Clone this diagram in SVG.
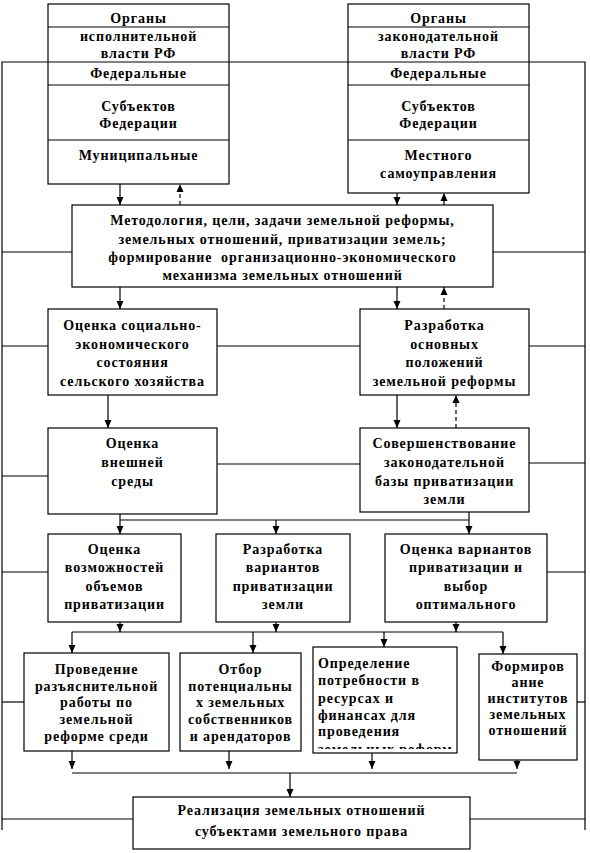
<svg xmlns="http://www.w3.org/2000/svg" width="590" height="853" viewBox="0 0 590 853">
<defs>
<style>
.b{fill:#fff;stroke:#000;stroke-width:1.2}
.l{fill:none;stroke:#000;stroke-width:1.2}
.d{fill:none;stroke:#000;stroke-width:1.2;stroke-dasharray:4 3}
text{font-family:"Liberation Serif","Times New Roman",serif;font-weight:bold;font-size:14px;letter-spacing:0.9px;fill:#000;text-anchor:middle}
text.s{text-anchor:start}
</style>
<marker id="a" viewBox="0 0 8 8" refX="8" refY="4" markerWidth="8" markerHeight="8" markerUnits="userSpaceOnUse" orient="auto"><path d="M0,0.5 L8,4 L0,7.5 Z" fill="#000"/></marker>
<clipPath id="c3"><rect x="313" y="647" width="144" height="102"/></clipPath>
</defs>
<rect width="590" height="853" fill="#fff"/>
<g id="connectors">
<polyline class="l" points="2,830 2,62 585,62 585,830"/>
<line class="l" x1="2" y1="252" x2="72" y2="252"/>
<line class="l" x1="493" y1="252" x2="585" y2="252"/>
<line class="l" x1="2" y1="346" x2="48" y2="346"/>
<line class="l" x1="217" y1="346" x2="360" y2="346"/>
<line class="l" x1="529" y1="346" x2="585" y2="346"/>
<line class="l" x1="2" y1="476" x2="48" y2="476"/>
<line class="l" x1="217" y1="464" x2="360" y2="464"/>
<line class="l" x1="529" y1="463" x2="585" y2="463"/>
<line class="l" x1="2" y1="572" x2="48" y2="572"/>
<line class="l" x1="547" y1="572" x2="585" y2="572"/>
<line class="l" x1="2" y1="702" x2="24" y2="702"/>
<line class="l" x1="577" y1="702" x2="585" y2="702"/>
<line class="l" x1="2" y1="819" x2="133" y2="819"/>
<line class="l" x1="470" y1="819" x2="585" y2="819"/>
<line class="l" x1="120" y1="184" x2="120" y2="205" marker-end="url(#a)"/>
<line class="d" x1="180" y1="205" x2="180" y2="184" marker-end="url(#a)"/>
<line class="l" x1="397" y1="193" x2="397" y2="205" marker-end="url(#a)"/>
<line class="d" x1="444" y1="205" x2="444" y2="193" marker-end="url(#a)"/>
<line class="l" x1="120" y1="287" x2="120" y2="309" marker-end="url(#a)"/>
<line class="l" x1="397" y1="287" x2="397" y2="309" marker-end="url(#a)"/>
<line class="d" x1="444" y1="309" x2="444" y2="287" marker-end="url(#a)"/>
<line class="l" x1="108" y1="395" x2="108" y2="428" marker-end="url(#a)"/>
<line class="l" x1="397" y1="395" x2="397" y2="428" marker-end="url(#a)"/>
<line class="d" x1="456" y1="428" x2="456" y2="395" marker-end="url(#a)"/>
<line class="l" x1="120" y1="514" x2="120" y2="534" marker-end="url(#a)"/>
<line class="l" x1="469" y1="512" x2="469" y2="534" marker-end="url(#a)"/>
<line class="l" x1="120" y1="520" x2="469" y2="520"/>
<line class="l" x1="276" y1="520" x2="276" y2="534" marker-end="url(#a)"/>
<line class="l" x1="120" y1="622" x2="120" y2="632" marker-end="url(#a)"/>
<line class="l" x1="276" y1="622" x2="276" y2="632" marker-end="url(#a)"/>
<line class="l" x1="456" y1="622" x2="456" y2="632" marker-end="url(#a)"/>
<line class="l" x1="72" y1="632" x2="503" y2="632"/>
<line class="l" x1="72" y1="632" x2="72" y2="653" marker-end="url(#a)"/>
<line class="l" x1="253" y1="632" x2="253" y2="653" marker-end="url(#a)"/>
<line class="l" x1="384" y1="632" x2="384" y2="647" marker-end="url(#a)"/>
<line class="l" x1="503" y1="632" x2="503" y2="654" marker-end="url(#a)"/>
<line class="l" x1="72" y1="751" x2="72" y2="769" marker-end="url(#a)"/>
<line class="l" x1="229" y1="751" x2="229" y2="769" marker-end="url(#a)"/>
<line class="l" x1="372" y1="753" x2="372" y2="769" marker-end="url(#a)"/>
<line class="l" x1="517" y1="760" x2="517" y2="769" marker-end="url(#a)"/>
<line class="l" x1="72" y1="773" x2="517" y2="773"/>
<line class="l" x1="290" y1="773" x2="290" y2="797" marker-end="url(#a)"/>
</g>
<g id="exec">
<rect class="b" x="48" y="4" width="181" height="180"/>
<line class="l" x1="48" y1="27" x2="229" y2="27"/>
<line class="l" x1="48" y1="62" x2="229" y2="62"/>
<line class="l" x1="48" y1="85" x2="229" y2="85"/>
<line class="l" x1="48" y1="140" x2="229" y2="140"/>
<text x="138.5" y="23">Органы</text>
<text x="138.5" y="41">исполнительной</text>
<text x="138.5" y="58">власти РФ</text>
<text x="138.5" y="78">Федеральные</text>
<text x="138.5" y="111">Субъектов</text>
<text x="138.5" y="128">Федерации</text>
<text x="138.5" y="160">Муниципальные</text>
</g>
<g id="legis">
<rect class="b" x="348" y="4" width="181" height="189"/>
<line class="l" x1="348" y1="27" x2="529" y2="27"/>
<line class="l" x1="348" y1="62" x2="529" y2="62"/>
<line class="l" x1="348" y1="85" x2="529" y2="85"/>
<line class="l" x1="348" y1="140" x2="529" y2="140"/>
<text x="438.5" y="23">Органы</text>
<text x="438.5" y="41">законодательной</text>
<text x="438.5" y="58">власти РФ</text>
<text x="438.5" y="78">Федеральные</text>
<text x="438.5" y="111">Субъектов</text>
<text x="438.5" y="128">Федерации</text>
<text x="438.5" y="160">Местного</text>
<text x="438.5" y="178">самоуправления</text>
</g>
<g id="method">
<rect class="b" x="72" y="205" width="421" height="82"/>
<text x="282.5" y="225">Методология, цели, задачи земельной реформы,</text>
<text x="282.5" y="244">земельных отношений, приватизации земель;</text>
<text x="282.5" y="262" xml:space="preserve">формирование  организационно-экономического</text>
<text x="282.5" y="280">механизма земельных отношений</text>
</g>
<g id="social">
<rect class="b" x="48" y="309" width="169" height="86"/>
<text x="132.5" y="330">Оценка социально-</text>
<text x="132.5" y="349">экономического</text>
<text x="132.5" y="367">состояния</text>
<text x="132.5" y="386">сельского хозяйства</text>
</g>
<g id="develop">
<rect class="b" x="360" y="309" width="169" height="86"/>
<text x="444.5" y="330">Разработка</text>
<text x="444.5" y="349">основных</text>
<text x="444.5" y="367">положений</text>
<text x="444.5" y="386">земельной реформы</text>
</g>
<g id="env">
<rect class="b" x="48" y="428" width="169" height="86"/>
<text x="132.5" y="448">Оценка</text>
<text x="132.5" y="467">внешней</text>
<text x="132.5" y="486">среды</text>
</g>
<g id="law">
<rect class="b" x="360" y="428" width="169" height="84"/>
<text x="444.5" y="448">Совершенствование</text>
<text x="444.5" y="467">законодательной</text>
<text x="444.5" y="486">базы приватизации</text>
<text x="444.5" y="504">земли</text>
</g>
<g id="volumes">
<rect class="b" x="48" y="534" width="133" height="88"/>
<text x="114.5" y="554">Оценка</text>
<text x="114.5" y="572">возможностей</text>
<text x="114.5" y="591">объемов</text>
<text x="114.5" y="609">приватизации</text>
</g>
<g id="variants">
<rect class="b" x="216" y="534" width="134" height="88"/>
<text x="283" y="554">Разработка</text>
<text x="283" y="572">вариантов</text>
<text x="283" y="591">приватизации</text>
<text x="283" y="609">земли</text>
</g>
<g id="choice">
<rect class="b" x="385" y="534" width="162" height="88"/>
<text x="466" y="554">Оценка вариантов</text>
<text x="466" y="572">приватизации и</text>
<text x="466" y="591">выбор</text>
<text x="466" y="609">оптимального</text>
</g>
<g id="explain">
<rect class="b" x="24" y="653" width="145" height="98"/>
<text x="96.5" y="674">Проведение</text>
<text x="96.5" y="691">разъяснительной</text>
<text x="96.5" y="707">работы по</text>
<text x="96.5" y="724">земельной</text>
<text x="96.5" y="741">реформе среди</text>
</g>
<g id="select">
<rect class="b" x="180" y="653" width="121" height="98"/>
<text x="240.5" y="674">Отбор</text>
<text x="240.5" y="691">потенциальны</text>
<text x="240.5" y="707">х земельных</text>
<text x="240.5" y="724">собственников</text>
<text x="240.5" y="741">и арендаторов</text>
</g>
<g id="needs">
<rect class="b" x="313" y="647" width="144" height="106"/>
<g clip-path="url(#c3)">
<text class="s" x="318" y="668">Определение</text>
<text class="s" x="318" y="685">потребности в</text>
<text class="s" x="318" y="703">ресурсах и</text>
<text class="s" x="318" y="720">финансах для</text>
<text class="s" x="318" y="736">проведения</text>
<text class="s" x="318" y="754">земельных реформ</text>
</g>
</g>
<g id="institutes">
<rect class="b" x="479" y="654" width="98" height="106"/>
<text x="528" y="671">Формиров</text>
<text x="528" y="687">ание</text>
<text x="528" y="703">институтов</text>
<text x="528" y="719">земельных</text>
<text x="528" y="735">отношений</text>
</g>
<g id="realize">
<rect class="b" x="133" y="797" width="337" height="52"/>
<text x="301.5" y="815">Реализация земельных отношений</text>
<text x="301.5" y="836">субъектами земельного права</text>
</g>
</svg>
